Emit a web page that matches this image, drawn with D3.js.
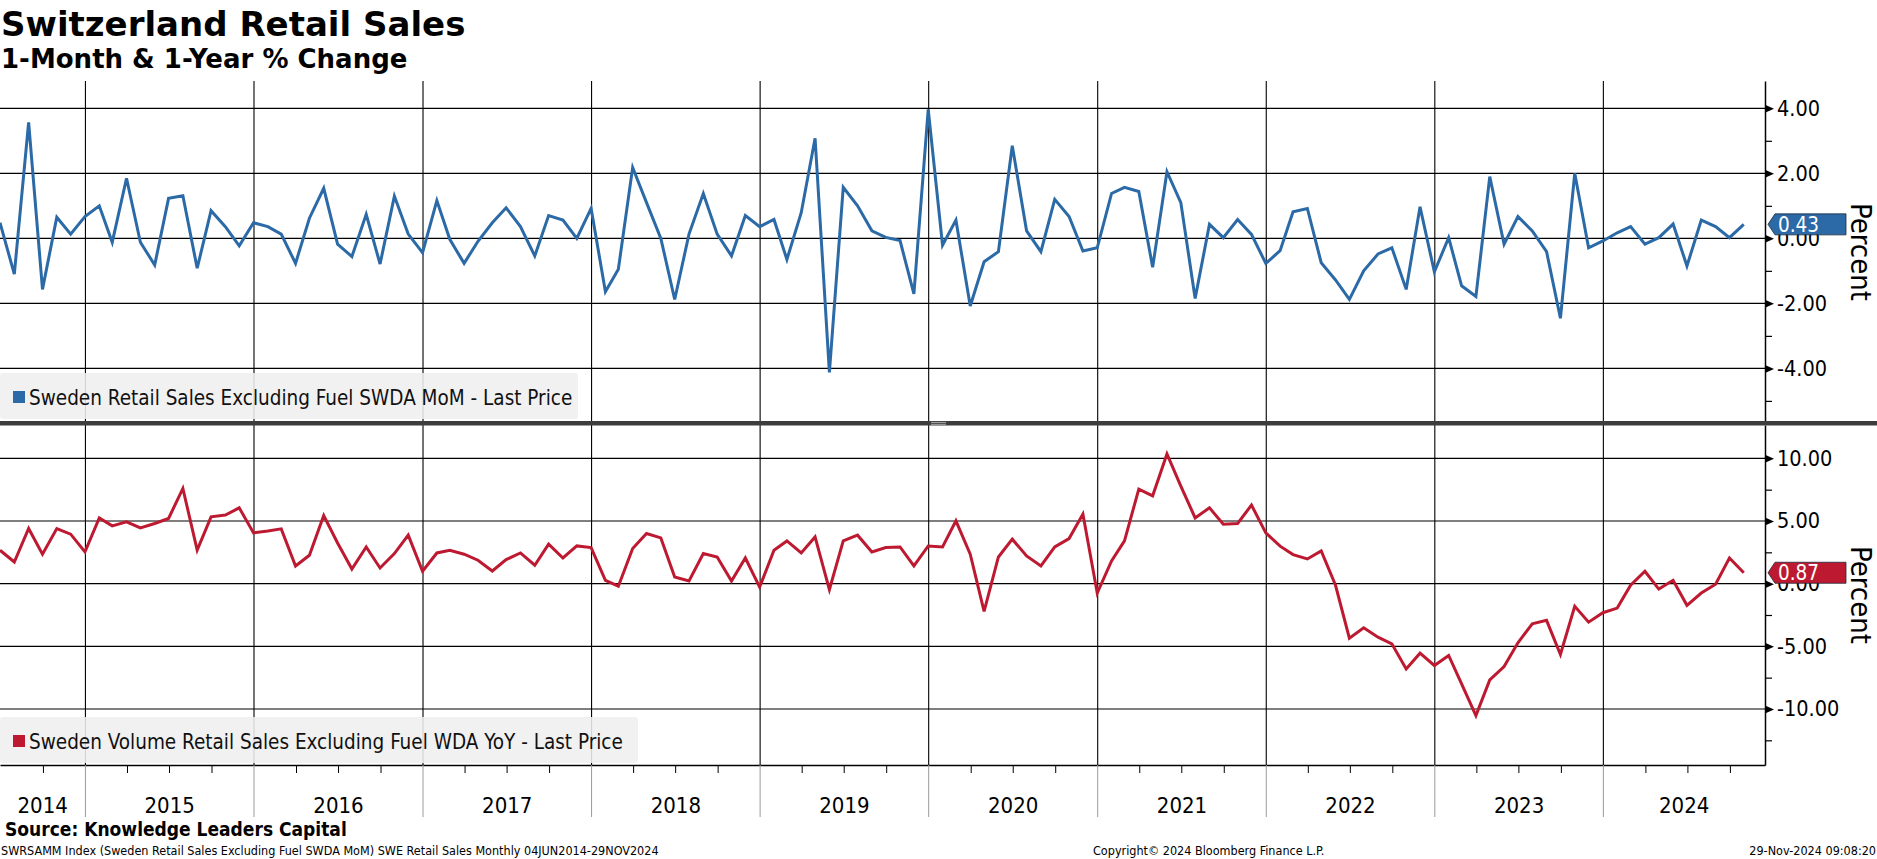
<!DOCTYPE html>
<html>
<head>
<meta charset="utf-8">
<script src="https://cdn.jsdelivr.net/npm/d3@7"></script>
<style>
  body { margin: 0; background: #fff; }
  svg { display: block; font-family: "DejaVu Sans Condensed", "DejaVu Sans", sans-serif; }
</style>
</head>
<body>
<svg id="chart" width="1877" height="859"></svg>
<script>
// monthly observations, first one is end of June 2014, last is end of October 2024
const firstMonth = new Date(2014, 5, 1);

// Sweden Retail Sales Excluding Fuel SWDA MoM (%)
const momValues = [
  0.48, -1.10, 3.57, -1.57, 0.65, 0.13, 0.67, 1.00, -0.12, 1.85,
  -0.12, -0.82, 1.23, 1.31, -0.92, 0.85, 0.36, -0.23, 0.48, 0.36,
  0.13, -0.77, 0.62, 1.54, -0.18, -0.56, 0.74, -0.79, 1.30, 0.13,
  -0.44, 1.16, -0.03, -0.77, -0.09, 0.48, 0.94, 0.36, -0.54, 0.70,
  0.56, 0.00, 0.92, -1.64, -0.95, 2.18, 1.10, 0.00, -1.88, 0.13,
  1.38, 0.13, -0.54, 0.70, 0.36, 0.58, -0.65, 0.79, 3.08, -4.12,
  1.57, 1.00, 0.23, 0.03, -0.07, -1.71, 3.97, -0.21, 0.56, -2.08,
  -0.72, -0.41, 2.85, 0.23, -0.41, 1.20, 0.67, -0.39, -0.29, 1.38,
  1.57, 1.44, -0.89, 2.05, 1.10, -1.85, 0.43, 0.02, 0.58, 0.12,
  -0.77, -0.38, 0.82, 0.92, -0.75, -1.28, -1.88, -1.00, -0.48, -0.29,
  -1.57, 0.97, -1.03, 0.02, -1.46, -1.79, 1.90, -0.18, 0.67, 0.23,
  -0.41, -2.46, 2.00, -0.29, -0.08, 0.17, 0.36, -0.18, 0.02, 0.44,
  -0.85, 0.56, 0.36, 0.02, 0.43
];

// Sweden Volume Retail Sales Excluding Fuel WDA YoY (%)
const yoyValues = [
  2.67, 1.73, 4.40, 2.35, 4.40, 3.95, 2.53, 5.25, 4.61, 4.93,
  4.45, 4.80, 5.20, 7.60, 2.67, 5.33, 5.47, 6.05, 4.05, 4.20,
  4.37, 1.41, 2.27, 5.44, 3.25, 1.17, 2.93, 1.25, 2.40, 3.87,
  0.99, 2.45, 2.67, 2.35, 1.87, 1.01, 1.92, 2.45, 1.47, 3.15,
  2.05, 3.01, 2.88, 0.27, -0.20, 2.80, 4.00, 3.65, 0.53, 0.21,
  2.40, 2.13, 0.21, 2.05, -0.27, 2.67, 3.41, 2.45, 3.73, -0.48,
  3.41, 3.87, 2.53, 2.88, 2.93, 1.41, 3.01, 2.93, 5.01, 2.35,
  -2.21, 2.13, 3.55, 2.21, 1.41, 2.93, 3.60, 5.55, -0.75, 1.81,
  3.41, 7.55, 7.01, 10.35, 7.79, 5.25, 6.05, 4.75, 4.80, 6.27,
  4.05, 2.99, 2.32, 1.97, 2.61, -0.13, -4.35, -3.52, -4.27, -4.80,
  -6.80, -5.55, -6.53, -5.73, -8.00, -10.53, -7.68, -6.61, -4.72, -3.20,
  -2.93, -5.65, -1.81, -3.07, -2.32, -1.95, -0.13, 0.99, -0.43, 0.27,
  -1.73, -0.75, -0.05, 2.05, 0.87
];

const yearLabels = ["2014", "2015", "2016", "2017", "2018", "2019", "2020", "2021", "2022", "2023", "2024"];
const momTicks = [4, 2, 0, -2, -4];
const momMinorTicks = [3, 1, -1, -3, -5];
const yoyTicks = [10, 5, 0, -5, -10];
const yoyMinorTicks = [7.5, 2.5, -2.5, -7.5, -12.5];

const blue = "#2b6aa6", red = "#bd1a31";
const axisX = 1765;
const svg = d3.select("#chart");

const monthEnd = i => d3.timeDay.offset(d3.timeMonth.offset(firstMonth, i + 1), -1);

let x = d3.scaleTime()
  .domain([new Date(2014, 5, 30), new Date(2024, 11, 16)])
  .range([0, axisX]);

const yearStarts = yearLabels.slice(1).map(y => new Date(+y, 0, 1));

function drawPanel(p) {
  let g = svg.append("g");
  let top = p.y.range()[1], bottom = p.y.range()[0];

  // horizontal grid
  g.append("g").selectAll("line").data(p.ticks).join("line")
    .attr("x1", 0).attr("x2", axisX)
    .attr("y1", d => p.y(d)).attr("y2", d => p.y(d))
    .attr("stroke", "#000").attr("stroke-width", 1.2);

  // year grid
  g.append("g").selectAll("line").data(yearStarts).join("line")
    .attr("x1", d => x(d)).attr("x2", d => x(d))
    .attr("y1", top).attr("y2", bottom)
    .attr("stroke", "#000").attr("stroke-width", 1.1);

  // legend
  let lg = g.append("g").attr("transform", "translate(0," + p.legendY + ")");
  lg.append("rect").attr("x", 0).attr("y", 0).attr("rx", 3)
    .attr("width", p.legendW).attr("height", 46)
    .attr("fill", "#efefef").attr("fill-opacity", 0.88);
  lg.append("rect").attr("x", 13).attr("y", 18).attr("width", 12).attr("height", 12)
    .attr("fill", p.color);
  lg.append("text").attr("x", 29).attr("y", 32)
    .attr("font-size", 20.5).attr("fill", "#111")
    .text(p.legend);

  // series
  g.append("path").datum(p.values)
    .attr("fill", "none").attr("stroke", p.color).attr("stroke-width", 3)
    .attr("stroke-linejoin", "miter")
    .attr("d", d3.line().x((d, i) => x(monthEnd(i))).y(d => p.y(d)));

  // right axis
  let minor = g.append("g").attr("transform", "translate(" + axisX + ",0)")
    .call(d3.axisRight(p.y).tickValues(p.minorTicks).tickSize(7).tickFormat(""));
  minor.select(".domain").remove();
  minor.selectAll("line").attr("stroke", "#000").attr("stroke-width", 1.2);

  let ax = g.append("g").attr("transform", "translate(" + axisX + ",0)")
    .call(d3.axisRight(p.y).tickValues(p.ticks).tickSize(0).tickSizeOuter(0).tickPadding(12)
      .tickFormat(d => d.toFixed(2)));
  ax.select(".domain").attr("stroke", "#000").attr("stroke-width", 1.5);
  ax.selectAll(".tick text").attr("font-size", 21.5).attr("fill", "#000")
    .attr("font-family", "'DejaVu Sans Condensed', sans-serif");
  ax.selectAll(".tick").append("path")
    .attr("d", "M0,-4L9,0L0,4Z").attr("fill", "#000");

  // last value tag
  let last = p.values[p.values.length - 1];
  let ly = p.y(last);
  let tag = g.append("g").attr("transform", "translate(" + axisX + "," + ly + ")");
  tag.append("path")
    .attr("d", "M3,0L10,-10.5L81,-10.5L81,10.5L10,10.5Z")
    .attr("fill", p.color).attr("stroke", "#1d2b3a").attr("stroke-width", 0.8);
  tag.append("text").attr("x", 13).attr("y", 0).attr("dy", "0.36em")
    .attr("font-size", 20.5).attr("fill", "#fff")
    .text(last.toFixed(2));

  // axis title
  g.append("text")
    .attr("transform", "translate(1851," + ((top + bottom) / 2) + ") rotate(90)")
    .attr("text-anchor", "middle").attr("font-size", 29).attr("fill", "#000")
    .text("Percent");
}

drawPanel({
  values: momValues,
  y: d3.scaleLinear().domain([-5.68, 4.84]).range([423, 81]),
  ticks: momTicks, minorTicks: momMinorTicks,
  color: blue,
  legend: "Sweden Retail Sales Excluding Fuel SWDA MoM - Last Price",
  legendY: 373, legendW: 578
});

drawPanel({
  values: yoyValues,
  y: d3.scaleLinear().domain([-14.47, 12.66]).range([765, 425]),
  ticks: yoyTicks, minorTicks: yoyMinorTicks,
  color: red,
  legend: "Sweden Volume Retail Sales Excluding Fuel WDA YoY - Last Price",
  legendY: 717, legendW: 638
});

// panel separator with grip
svg.append("rect").attr("x", 0).attr("y", 421).attr("width", 1877).attr("height", 4.5)
  .attr("fill", "#3d3d3d");
svg.selectAll(".grip").data([422.4, 424.3]).join("line")
  .attr("x1", 931).attr("x2", 946).attr("y1", d => d).attr("y2", d => d)
  .attr("stroke", "#b5b5b5").attr("stroke-width", 0.9);

// bottom time axis
let quarters = d3.timeMonth.every(3).range(new Date(2014, 9, 1), new Date(2024, 11, 1))
  .filter(d => d.getMonth() !== 0);
let xa = svg.append("g").attr("transform", "translate(0,765)")
  .call(d3.axisBottom(x).tickValues(quarters).tickSize(8).tickSizeOuter(0).tickFormat(""));
xa.select(".domain").attr("stroke", "#000").attr("stroke-width", 1.5);
xa.selectAll("line").attr("stroke", "#000");

svg.append("g").selectAll("line").data(yearStarts).join("line")
  .attr("x1", d => x(d)).attr("x2", d => x(d))
  .attr("y1", 765).attr("y2", 817)
  .attr("stroke", "#9a9a9a").attr("stroke-width", 1);

svg.append("g").selectAll("text").data(yearLabels).join("text")
  .attr("x", d => {
    let a = Math.max(0, x(new Date(+d, 0, 1)));
    let b = Math.min(axisX, x(new Date(+d + 1, 0, 1)));
    return (a + b) / 2;
  })
  .attr("y", 813).attr("text-anchor", "middle")
  .attr("font-size", 22).attr("fill", "#000")
  .text(d => d);

// headings
svg.append("text").attr("x", 1).attr("y", 36)
  .attr("font-family", "'DejaVu Sans', sans-serif")
  .attr("font-size", 34).attr("font-weight", "bold").attr("fill", "#000")
  .text("Switzerland Retail Sales");
svg.append("text").attr("x", 1).attr("y", 68)
  .attr("font-family", "'DejaVu Sans', sans-serif")
  .attr("font-size", 26).attr("font-weight", "bold").attr("fill", "#000")
  .text("1-Month & 1-Year % Change");

// footer
svg.append("text").attr("x", 5).attr("y", 836)
  .attr("font-size", 19).attr("font-weight", "bold").attr("fill", "#000")
  .text("Source: Knowledge Leaders Capital");
svg.append("text").attr("x", 1).attr("y", 855)
  .attr("font-size", 12.5).attr("fill", "#000")
  .text("SWRSAMM Index (Sweden Retail Sales Excluding Fuel SWDA MoM) SWE Retail Sales  Monthly 04JUN2014-29NOV2024");
svg.append("text").attr("x", 1093).attr("y", 855)
  .attr("font-size", 12.5).attr("fill", "#000")
  .text("Copyright\u00a9 2024 Bloomberg Finance L.P.");
svg.append("text").attr("x", 1876).attr("y", 855).attr("text-anchor", "end")
  .attr("font-size", 12.5).attr("fill", "#000")
  .text("29-Nov-2024 09:08:20");
</script>
</body>
</html>
